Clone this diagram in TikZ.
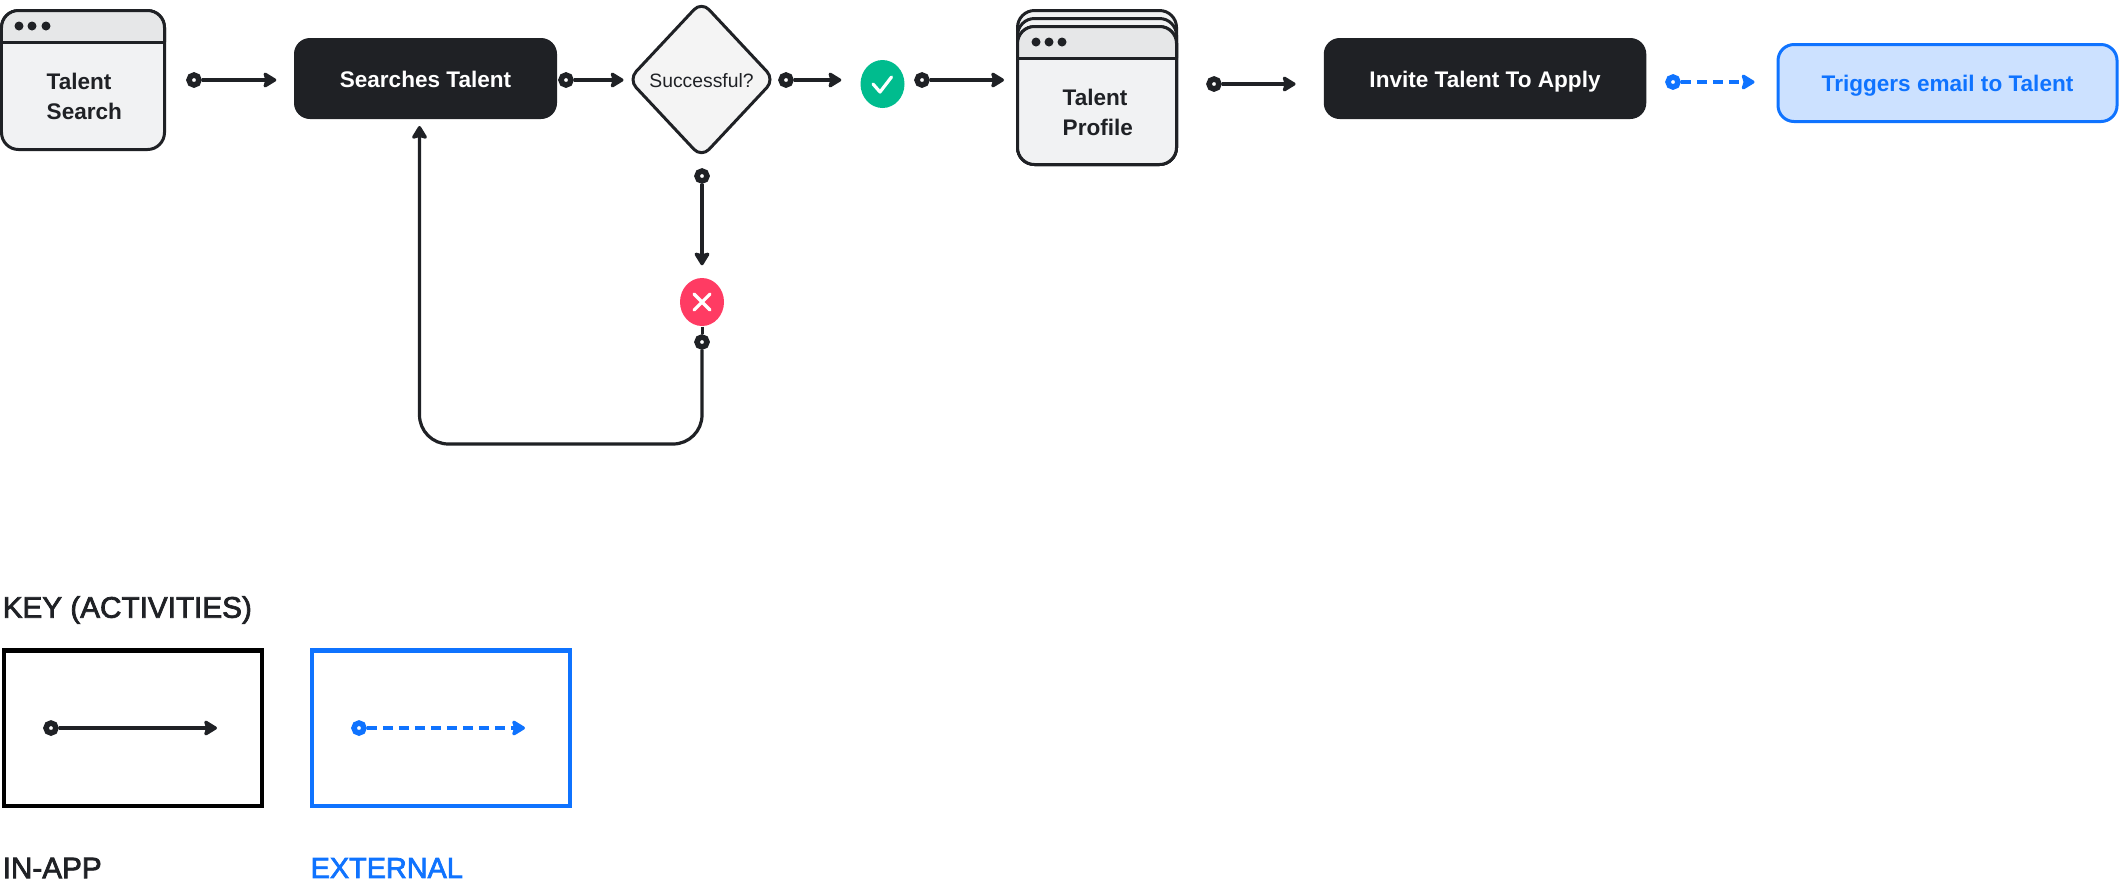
\documentclass[tikz,border=0pt]{standalone}
\usepackage{fontspec}
\setmainfont{Liberation Sans}
\newfontfamily\keyfont[FakeBold=2.5]{Liberation Sans}
\usepackage{xcolor}
\usetikzlibrary{
    arrows.meta, positioning, calc, shapes.geometric
}
\definecolor{inkcolor}{HTML}{1f2125}
\definecolor{winbg}{HTML}{f1f2f3}
\definecolor{headbg}{HTML}{e6e7e8}
\definecolor{diamondbg}{HTML}{f4f4f4}
\definecolor{extcolor}{HTML}{0f73ff}
\definecolor{extbg}{HTML}{cce1ff}
\definecolor{okcolor}{HTML}{00bc8e}
\definecolor{failcolor}{HTML}{ff3b63}

\begin{document}
\begin{tikzpicture}[
    window/.style={
        rectangle, rounded corners=0.17cm,
        fill=winbg, draw=inkcolor, line width=0.03cm,
        minimum width=1.59cm, inner sep=0pt,
    },
    winhead/.style={
        fill=headbg, draw=inkcolor, line width=0.03cm, rounded corners=0.17cm,
    },
    winline/.style={draw=inkcolor, line width=0.03cm},
    windot/.style={circle, fill=inkcolor, inner sep=0pt, minimum size=0.09cm},
    winlabel/.style={
        align=left, anchor=west, text=inkcolor, inner sep=0pt,
        font=\fontsize{6.42}{8.5}\selectfont\bfseries,
    },
    action/.style={
        rectangle, rounded corners=0.16cm,
        fill=inkcolor, text=white, minimum height=0.81cm, inner sep=0pt,
        text height=0.187cm, text depth=0pt,
        font=\fontsize{6.42}{8}\selectfont\bfseries,
    },
    extbox/.style={
        rectangle, rounded corners=0.16cm,
        fill=extbg, draw=extcolor, line width=0.03cm, text=extcolor,
        minimum width=3.39cm, minimum height=0.77cm, inner sep=0pt,
        text height=0.177cm, text depth=0pt,
        font=\fontsize{6.42}{8}\selectfont\bfseries,
    },
    decision/.style={
        diamond, rounded corners=0.11cm, aspect=0.9,
        fill=diamondbg, draw=inkcolor, line width=0.03cm,
        minimum width=1.47cm, minimum height=1.57cm, inner sep=0pt,
        text height=0.158cm, text depth=0pt,
        text=inkcolor, font=\fontsize{5.5}{7}\selectfont,
    },
    okmark/.style={ellipse, fill=okcolor, minimum width=0.44cm, minimum height=0.48cm, inner sep=0pt},
    failmark/.style={ellipse, fill=failcolor, minimum width=0.44cm, minimum height=0.48cm, inner sep=0pt},
    glyph/.style={draw=white, line width=0.032cm, line cap=round, line join=round},
    pin/.style={circle, draw=inkcolor, fill=white, line width=0.055cm, minimum size=0.1cm, inner sep=0pt},
    extpin/.style={circle, draw=extcolor, fill=white, line width=0.055cm, minimum size=0.1cm, inner sep=0pt},
    conn/.style={
        draw=inkcolor, line width=0.032cm,
        -{Stealth[length=0.15cm, width=0.18cm, inset=0.025cm, round]},
    },
    extconn/.style={
        draw=extcolor, line width=0.032cm, dash pattern=on 0.1cm off 0.06cm,
        -{Stealth[length=0.15cm, width=0.18cm, inset=0.025cm, round]},
    },
    keybox/.style={
        rectangle, line width=0.045cm, minimum width=2.58cm, minimum height=1.555cm, inner sep=0pt,
    },
    keytitle/.style={
        anchor=west, inner sep=0pt, text=inkcolor,
        font=\fontsize{8.45}{10}\selectfont\keyfont,
    },
]
\useasboundingbox (0,0) rectangle (21.2,-8.88);

% Talent search window
\node[window, minimum width=1.63cm, minimum height=1.39cm] (search) at (0.83,-0.80) {};
\draw[winhead] (0.015,-0.42) -- (0.015,-0.105) -- (1.645,-0.105) -- (1.645,-0.42);
\draw[winline] (0.015,-0.42) -- (1.645,-0.42);
\node[windot] (sd1) at (0.19,-0.26) {};
\node[windot] (sd2) at (0.32,-0.26) {};
\node[windot] (sd3) at (0.46,-0.26) {};
\node[winlabel] (searchlabel) at (0.46,-0.96) {Talent\\Search};

% Main row
\node[action, minimum width=2.63cm] (searches) at (4.255,-0.785) {Searches Talent};
\node[decision] (success) at (7.015,-0.795) {Successful?};
\node[okmark] (ok) at (8.825,-0.84) {};
\draw[glyph] (8.73,-0.84) -- (8.80,-0.92) -- (8.915,-0.77);
\node[failmark] (fail) at (7.02,-3.02) {};
\draw[glyph] (6.94,-2.94) -- (7.10,-3.10);
\draw[glyph] (7.10,-2.94) -- (6.94,-3.10);

% Talent profile stack
\node[window, minimum height=1.54cm] (profileback) at (10.97,-0.875) {};
\node[window, minimum height=1.46cm] (profilemid) at (10.97,-0.915) {};
\node[window, minimum height=1.38cm] (profile) at (10.97,-0.955) {};
\draw[winhead] (10.175,-0.58) -- (10.175,-0.265) -- (11.765,-0.265) -- (11.765,-0.58);
\draw[winline] (10.175,-0.58) -- (11.765,-0.58);
\node[windot] (pd1) at (10.36,-0.42) {};
\node[windot] (pd2) at (10.49,-0.42) {};
\node[windot] (pd3) at (10.62,-0.42) {};
\node[winlabel] (profilelabel) at (10.62,-1.12) {Talent\\Profile};

\node[action, minimum width=3.225cm] (invite) at (14.85,-0.785) {Invite Talent To Apply};
\node[extbox] (email) at (19.475,-0.83) {Triggers email to Talent};

% Pins
\node[pin] (p1) at (1.94,-0.80) {};
\node[pin] (p2) at (5.66,-0.80) {};
\node[pin] (p3) at (7.86,-0.80) {};
\node[pin] (p4) at (9.22,-0.80) {};
\node[pin] (p5) at (12.14,-0.84) {};
\node[extpin] (p6) at (16.73,-0.82) {};
\node[pin] (p7) at (7.02,-1.76) {};
\node[pin] (p8) at (7.02,-3.42) {};

% Connector arrows
\draw[conn, shorten >=0.17cm] (p1.east) -- (p1 -| searches.west);
\draw[conn, shorten >=0.03cm] (p2.east) -- (p2 -| success.west);
\draw[conn, shorten >=0.185cm] (p3.east) -- (p3 -| ok.west);
\draw[conn, shorten >=0.12cm] (p4.east) -- (p4 -| profile.west);
\draw[conn, shorten >=0.275cm] (p5.east) -- (p5 -| invite.west);
\draw[extconn, shorten >=0.22cm] (p6.east) -- (p6 -| email.west);
\draw[conn, shorten >=0.12cm] (p7.south) -- (p7 |- fail.north);

% Retry loop
\coordinate (loopcorner) at (7.02,-4.44);
\coordinate (looptop) at (4.195,-1.26);
\draw[winline] (fail.south) -- (p8.north);
\draw[conn, rounded corners=0.29cm] (p8.south) -- (p8 |- loopcorner) -- (looptop |- loopcorner) -- (looptop);

% Key
\node[keytitle] (keytitle) at (0.02,-6.10) {KEY (ACTIVITIES)};
\node[keybox, draw=black] (keyapp) at (1.33,-7.28) {};
\node[keybox, draw=extcolor] (keyext) at (4.41,-7.28) {};
\node[pin] (keypin) at (0.51,-7.28) {};
\node[extpin] (keyextpin) at (3.59,-7.28) {};
\coordinate (keyend) at (2.17,-7.28);
\coordinate (keyextend) at (5.25,-7.28);
\draw[conn] (keypin.east) -- (keyend);
\draw[extconn] (keyextpin.east) -- (keyextend);
\node[keytitle] (applabel) at (0.02,-8.68) {IN-APP};
\node[keytitle, text=extcolor, font=\fontsize{8.2}{10}\selectfont\keyfont] (extlabel) at (3.10,-8.68) {EXTERNAL};

\end{tikzpicture}
\end{document}
